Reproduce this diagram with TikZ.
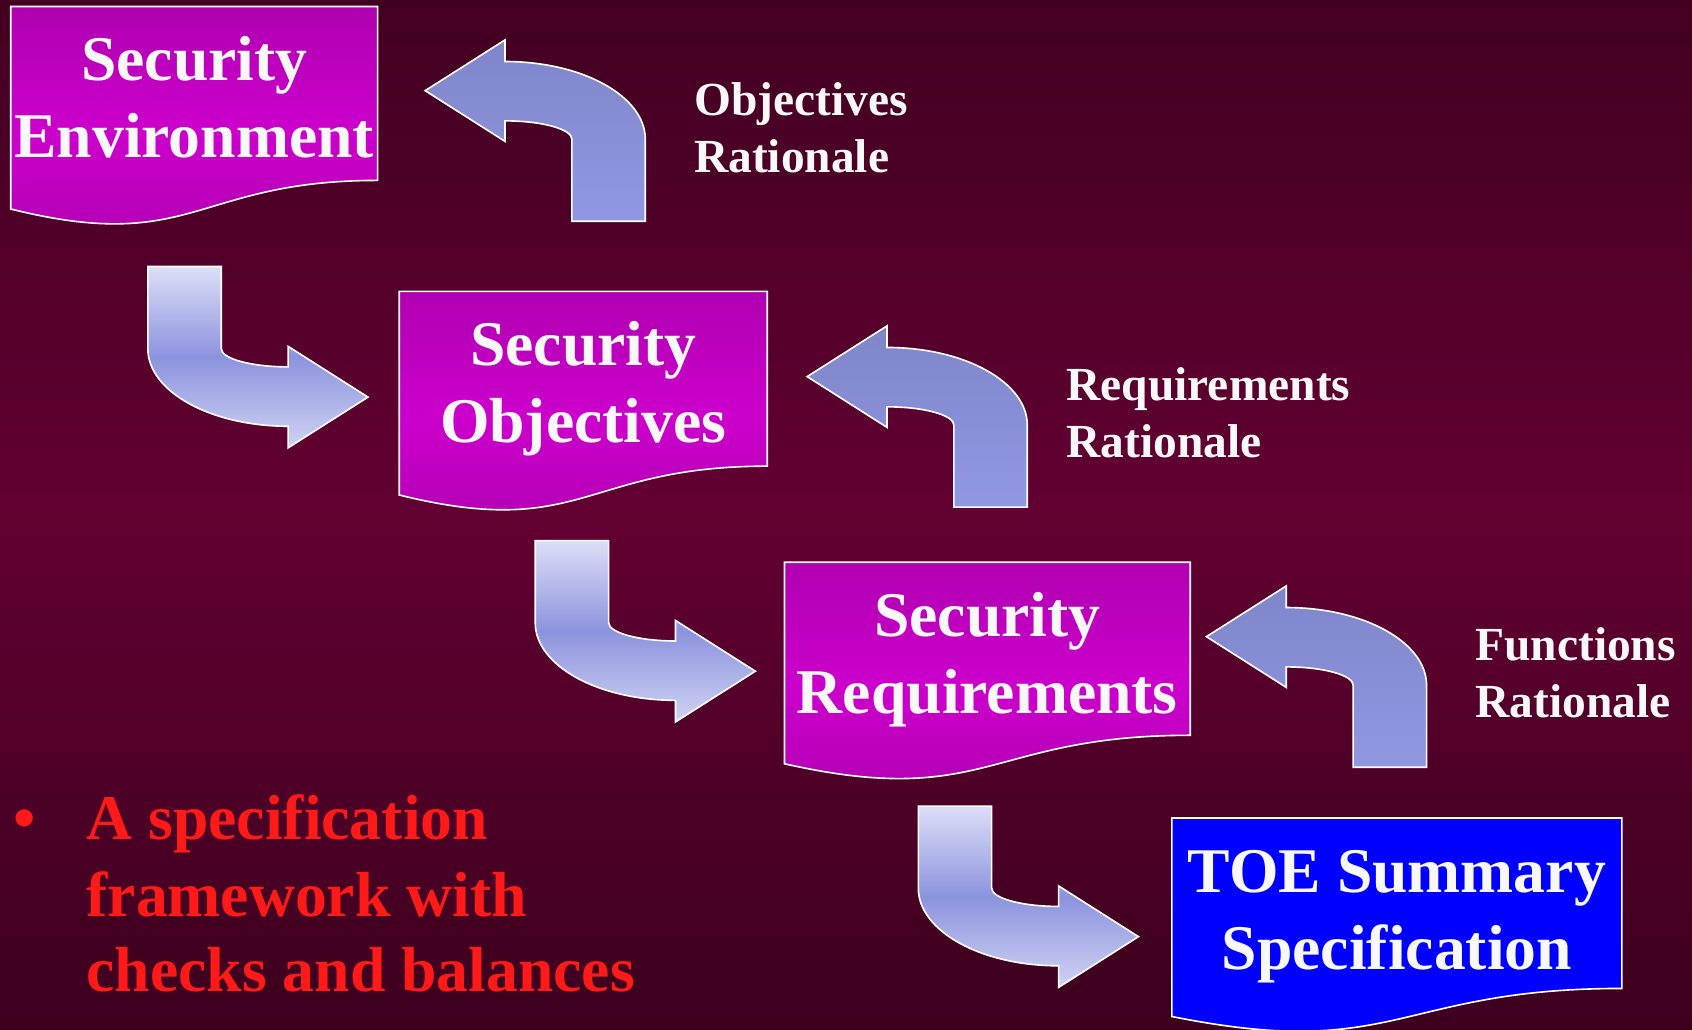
\documentclass[tikz,border=0pt]{standalone}
\usepackage{fontspec}
\setmainfont{Liberation Serif}
\definecolor{bgtop}{RGB}{66,0,32}
\definecolor{bgmid}{RGB}{98,0,50}
\definecolor{bgbot}{RGB}{60,0,29}
\definecolor{mtop}{RGB}{176,0,176}
\definecolor{mmid}{RGB}{204,0,204}
\definecolor{ultop}{RGB}{127,133,201}
\definecolor{ulbot}{RGB}{145,152,226}
\definecolor{drtop}{RGB}{220,222,246}
\definecolor{drmid}{RGB}{140,147,222}
\definecolor{drbot}{RGB}{208,211,243}
\definecolor{lbl}{RGB}{248,248,248}
\definecolor{bulred}{RGB}{255,26,26}
\newcommand\ulArrow[2]{%
  \begin{scope}[shift={(#1,#2)}]
    \path[ularrow] (0,0) -- (74,-47) -- (74,-27)
      .. controls (145.8,-27) and (204,5.2) .. (204,45)
      -- (204,121) -- (136,121) -- (136,45)
      .. controls (136,35.6) and (108.2,28) .. (74,28)
      -- (74,47) -- cycle;
  \end{scope}}
\newcommand\drArrow[2]{%
  \begin{scope}[shift={(#1,#2)}]
    \path[drarrow] (0,0) -- (-74,47) -- (-74,27)
      .. controls (-145.8,27) and (-204,-5.2) .. (-204,-45)
      -- (-204,-121) -- (-136,-121) -- (-136,-45)
      .. controls (-136,-35.6) and (-108.2,-28) .. (-74,-28)
      -- (-74,-47) -- cycle;
  \end{scope}}
\begin{document}
\begin{tikzpicture}[x=1pt,y=-1pt,
  magbox/.style={draw=white, line width=1.5pt, top color=mtop, bottom color=mtop, middle color=mmid},
  blubox/.style={draw=white, line width=1.5pt, fill={rgb,255:red,0;green,0;blue,255}},
  ularrow/.style={draw=white, line width=1.5pt, top color=ultop, bottom color=ulbot},
  drarrow/.style={draw=white, line width=1.5pt, top color=drtop, bottom color=drbot, middle color=drmid},
  boxtxt/.style={font=\fontsize{59}{72}\selectfont\bfseries, text=lbl, anchor=base, inner sep=0pt},
  lbltxt/.style={font=\fontsize{44}{53}\selectfont\bfseries, text=lbl, anchor=base west, inner sep=0pt},
  redtxt/.style={font=\fontsize{59}{71}\selectfont\bfseries, text=bulred, anchor=base west, inner sep=0pt}]
\useasboundingbox (0,0) rectangle (1568,954);
\clip (0,0) rectangle (1568,954);
\shade[top color=bgtop, bottom color=bgbot, middle color=bgmid] (0,0) rectangle (1568,954);

% document boxes
\path[magbox] (10,6) -- (350,6) -- (350,167.2) .. controls (180,167.2) and (180,236) .. (10,193.7) -- cycle;
\path[magbox] (370,270) -- (711,270) -- (711,432) .. controls (540.5,432) and (540.5,501) .. (370,458.7) -- cycle;
\path[magbox] (727,521) -- (1103,521) -- (1103,681.4) .. controls (915,681.4) and (915,750) .. (727,707.8) -- cycle;
\path[blubox] (1086,758) -- (1503,758) -- (1503,916) .. controls (1294.5,916) and (1294.5,984) .. (1086,942) -- cycle;

% box texts
\node[boxtxt] (se1) at (180,75) {Security};
\node[boxtxt] (se2) at (180,146) {Environment};
\node[boxtxt] (so1) at (540.5,339) {Security};
\node[boxtxt] (so2) at (540.5,410) {Objectives};
\node[boxtxt] (sr1) at (915,590) {Security};
\node[boxtxt] (sr2) at (915,661) {Requirements};
\node[boxtxt] (ts1) at (1294.5,827) {TOE Summary};
\node[boxtxt] (ts2) at (1294.5,898) {Specification};

% up-left (rationale) arrows
\ulArrow{394}{84}
\ulArrow{748}{349}
\ulArrow{1118}{590}

% down-right arrows
\drArrow{341}{368}
\drArrow{700}{622}
\drArrow{1055}{868}

% rationale labels
\node[lbltxt] (or1) at (643,107) {Objectives};
\node[lbltxt] (or2) at (643,160) {Rationale};
\node[lbltxt] (rr1) at (988,371) {Requirements};
\node[lbltxt] (rr2) at (988,424) {Rationale};
\node[lbltxt] (fr1) at (1367,612) {Functions};
\node[lbltxt] (fr2) at (1367,665) {Rationale};

% bullet text
\node[redtxt] (bul) at (12,778) {•};
\node[redtxt] (b1) at (80,778) {A specification};
\node[redtxt] (b2) at (80,849) {framework with};
\node[redtxt] (b3) at (80,919) {checks and balances};
\end{tikzpicture}
\end{document}
